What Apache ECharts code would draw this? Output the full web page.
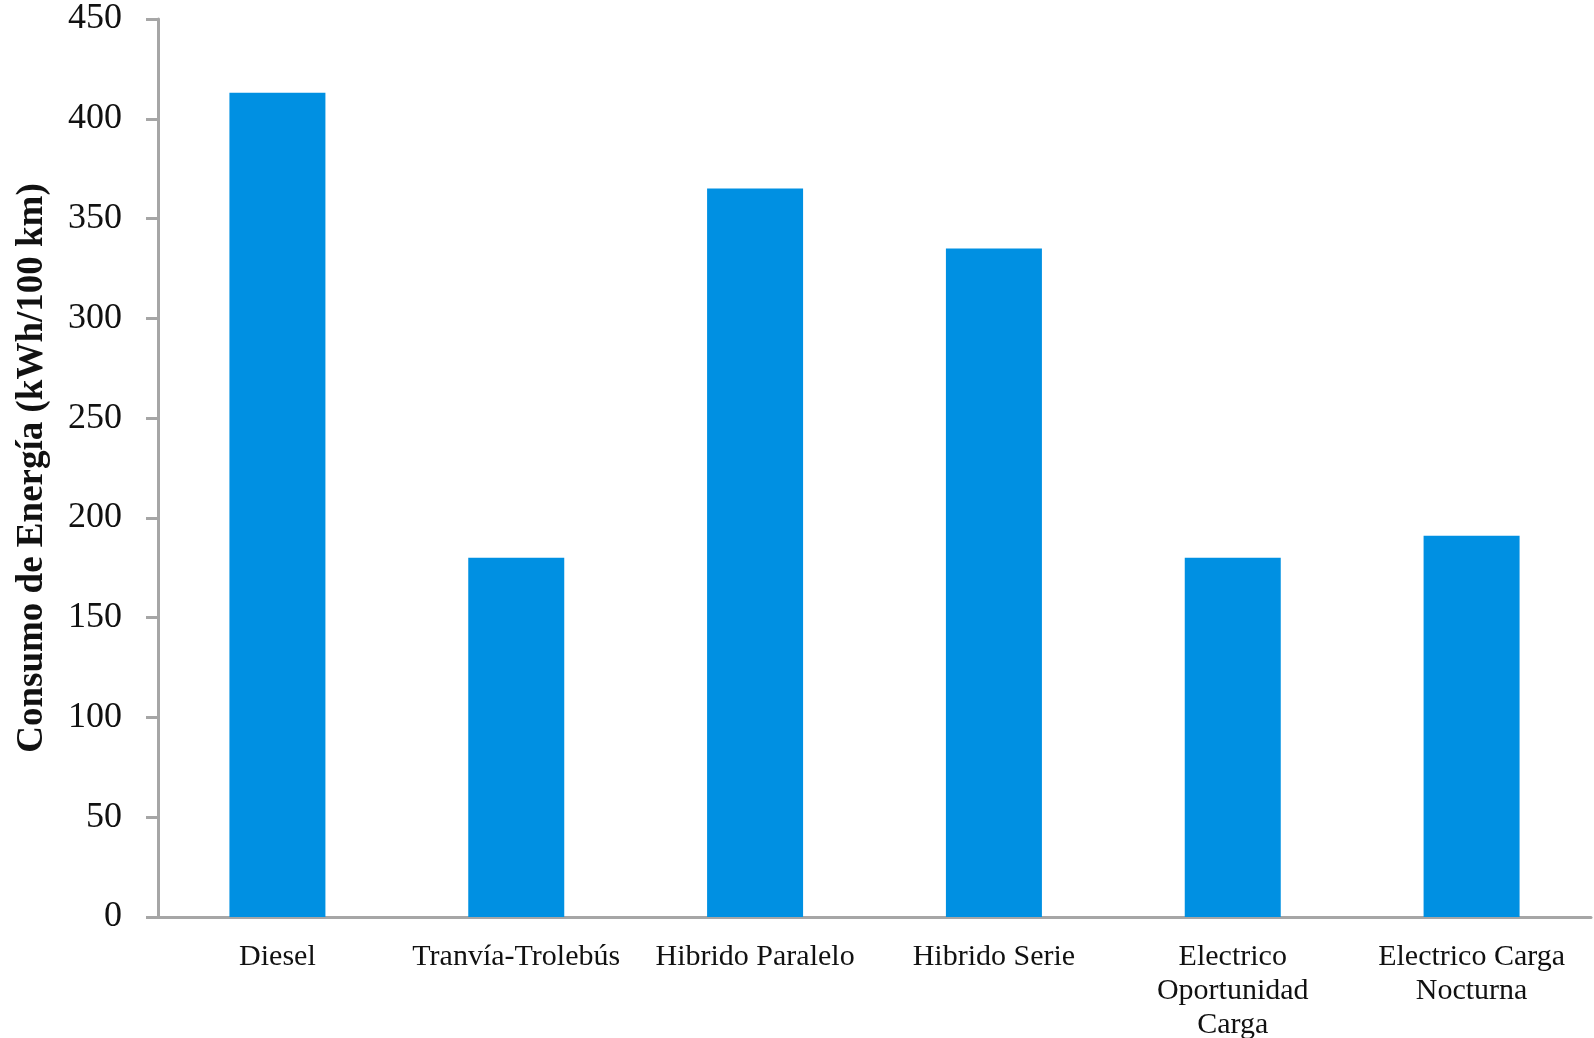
<!DOCTYPE html>
<html>
<head>
<meta charset="utf-8">
<script src="https://cdn.jsdelivr.net/npm/echarts@6/dist/echarts.min.js"></script>
<style>
  html, body { margin: 0; padding: 0; background: #fff; }
  #chart { width: 1594px; height: 1038px; }
</style>
</head>
<body>
<div id="chart"></div>
<script>
// categories (line breaks as in the original figure)
const categories = [
  'Diesel',
  'Tranvía-Trolebús',
  'Hibrido Paralelo',
  'Hibrido Serie',
  'Electrico\nOportunidad\nCarga',
  'Electrico Carga\nNocturna'
];
// energy consumption, kWh/100 km
const consumo = [413, 180, 365, 335, 180, 191];
const yTicks = { min: 0, max: 450, interval: 50 };

const fontFamily = '"Liberation Serif", "DejaVu Serif", serif';
const axisGray = '#a6a6a6';

const chart = echarts.init(document.getElementById('chart'));
chart.setOption({
  animation: false,
  backgroundColor: '#fff',
  grid: { left: 158, right: 3, top: 19, bottom: 121, outerBoundsMode: 'none' },
  xAxis: {
    type: 'category',
    data: categories,
    axisLine: { lineStyle: { color: axisGray, width: 3 } },
    axisTick: { show: false },
    axisLabel: {
      interval: 0,
      margin: 23,
      color: '#111',
      fontFamily: fontFamily,
      fontSize: 30,
      lineHeight: 34
    }
  },
  yAxis: {
    type: 'value',
    min: yTicks.min,
    max: yTicks.max,
    interval: yTicks.interval,
    name: 'Consumo de Energía (kWh/100 km)',
    nameLocation: 'middle',
    nameGap: 107,
    nameTextStyle: {
      fontFamily: fontFamily,
      fontWeight: 'bold',
      fontSize: 37,
      color: '#111'
    },
    splitLine: { show: false },
    axisLine: { show: true, lineStyle: { color: axisGray, width: 3 } },
    axisTick: { show: true, length: 12, lineStyle: { color: axisGray, width: 3 } },
    axisLabel: {
      margin: 36,
      padding: [8, 0, 0, 0],
      color: '#111',
      fontFamily: fontFamily,
      fontSize: 36
    }
  },
  series: [{
    type: 'bar',
    data: consumo,
    barWidth: 96,
    itemStyle: { color: '#0090e2' }
  }]
});
</script>
</body>
</html>
